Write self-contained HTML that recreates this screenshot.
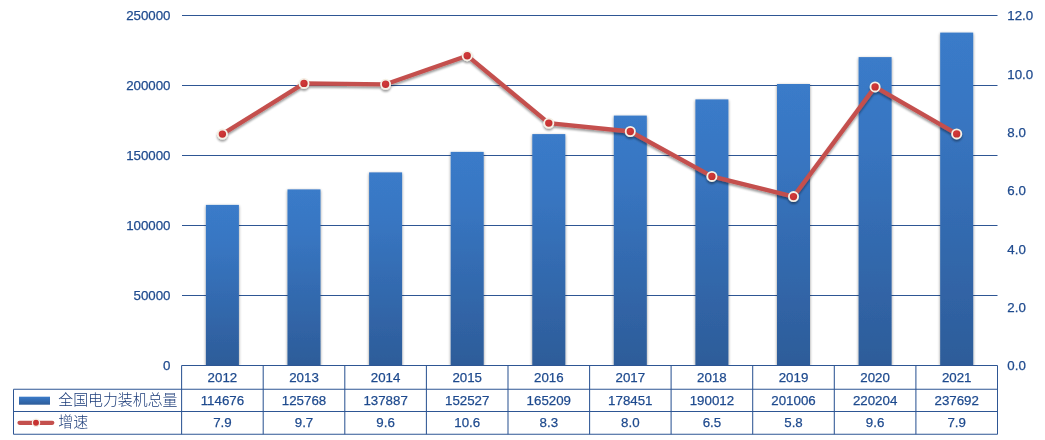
<!DOCTYPE html>
<html lang="zh"><head><meta charset="utf-8"><title>全国电力装机总量</title>
<style>html,body{margin:0;padding:0;background:#fff}body{width:1045px;height:440px;overflow:hidden}svg{display:block}text{font-family:"Liberation Sans","Noto Sans CJK SC",sans-serif;font-size:13.3px;fill:#1E4A8E;stroke:#1E4A8E;stroke-width:0.25px}.cj{font-family:"Liberation Sans","Noto Sans CJK SC",sans-serif;font-size:14.9px;font-weight:300;fill:#1B3B78;stroke:none}</style></head><body>
<svg width="1045" height="440" viewBox="0 0 1045 440">
<defs>
<linearGradient id="bg" x1="0" y1="0" x2="0" y2="1"><stop offset="0" stop-color="#3A7BC9"/><stop offset="0.25" stop-color="#3876C2"/><stop offset="1" stop-color="#2D5C99"/></linearGradient>
<linearGradient id="lg" x1="0" y1="0" x2="0" y2="1"><stop offset="0" stop-color="#3A7BC9"/><stop offset="1" stop-color="#2D5C99"/></linearGradient>
<radialGradient id="mg" cx="0.4" cy="0.35" r="0.7"><stop offset="0" stop-color="#D23A3A"/><stop offset="1" stop-color="#BE2E2E"/></radialGradient>
<filter id="bs" x="-20%" y="-5%" width="140%" height="110%"><feGaussianBlur in="SourceAlpha" stdDeviation="1.5"/><feOffset dx="0" dy="0.5"/><feComponentTransfer><feFuncA type="linear" slope="0.45"/></feComponentTransfer><feMerge><feMergeNode/><feMergeNode in="SourceGraphic"/></feMerge></filter>
<filter id="ls" x="-5%" y="-20%" width="110%" height="140%"><feGaussianBlur in="SourceAlpha" stdDeviation="1.1"/><feOffset dx="0" dy="2"/><feComponentTransfer><feFuncA type="linear" slope="0.4"/></feComponentTransfer><feMerge><feMergeNode/><feMergeNode in="SourceGraphic"/></feMerge></filter>
</defs>
<rect width="1045" height="440" fill="#fff"/>
<line x1="182.0" y1="295.5" x2="997.5" y2="295.5" stroke="#2E5694" stroke-width="1.05"/>
<line x1="182.0" y1="225.5" x2="997.5" y2="225.5" stroke="#2E5694" stroke-width="1.05"/>
<line x1="182.0" y1="155.4" x2="997.5" y2="155.4" stroke="#2E5694" stroke-width="1.05"/>
<line x1="182.0" y1="85.4" x2="997.5" y2="85.4" stroke="#2E5694" stroke-width="1.05"/>
<line x1="182.0" y1="15.4" x2="997.5" y2="15.4" stroke="#2E5694" stroke-width="1.05"/>
<clipPath id="pc"><rect x="0" y="0" width="1045" height="365.5"/></clipPath>
<g clip-path="url(#pc)"><g filter="url(#bs)">
<rect x="205.9" y="204.9" width="33" height="160.6" fill="url(#bg)"/>
<rect x="287.5" y="189.4" width="33" height="176.1" fill="url(#bg)"/>
<rect x="369.1" y="172.4" width="33" height="193.1" fill="url(#bg)"/>
<rect x="450.7" y="151.9" width="33" height="213.6" fill="url(#bg)"/>
<rect x="532.3" y="134.1" width="33" height="231.4" fill="url(#bg)"/>
<rect x="613.8" y="115.6" width="33" height="249.9" fill="url(#bg)"/>
<rect x="695.4" y="99.4" width="33" height="266.1" fill="url(#bg)"/>
<rect x="777.0" y="84.0" width="33" height="281.5" fill="url(#bg)"/>
<rect x="858.6" y="57.1" width="33" height="308.4" fill="url(#bg)"/>
<rect x="940.2" y="32.6" width="33" height="332.9" fill="url(#bg)"/>
</g></g>
<g stroke="#2E5694" stroke-width="1.05" fill="none">
<line x1="181.6" y1="365.5" x2="997.5" y2="365.5"/>
<line x1="13.5" y1="389.3" x2="997.5" y2="389.3"/>
<line x1="13.5" y1="411.5" x2="997.5" y2="411.5"/>
<line x1="13.5" y1="434.3" x2="997.5" y2="434.3"/>
<line x1="13.5" y1="389.3" x2="13.5" y2="434.3"/>
<line x1="181.6" y1="365.5" x2="181.6" y2="434.3"/>
<line x1="263.2" y1="365.5" x2="263.2" y2="434.3"/>
<line x1="344.8" y1="365.5" x2="344.8" y2="434.3"/>
<line x1="426.4" y1="365.5" x2="426.4" y2="434.3"/>
<line x1="508.0" y1="365.5" x2="508.0" y2="434.3"/>
<line x1="589.6" y1="365.5" x2="589.6" y2="434.3"/>
<line x1="671.1" y1="365.5" x2="671.1" y2="434.3"/>
<line x1="752.7" y1="365.5" x2="752.7" y2="434.3"/>
<line x1="834.3" y1="365.5" x2="834.3" y2="434.3"/>
<line x1="915.9" y1="365.5" x2="915.9" y2="434.3"/>
<line x1="997.5" y1="365.5" x2="997.5" y2="434.3"/>
</g>
<g filter="url(#ls)">
<polyline points="222.4,134.1 304.0,83.4 385.6,84.3 467.2,55.7 548.8,123.1 630.3,131.5 711.9,176.4 793.5,196.6 875.1,86.9 956.7,133.9" fill="none" stroke="#C4504E" stroke-width="4.3" stroke-linejoin="round" stroke-linecap="round"/>
<circle cx="222.4" cy="134.1" r="4.6" fill="url(#mg)" stroke="#F5F1E6" stroke-width="1.8"/>
<circle cx="304.0" cy="83.4" r="4.6" fill="url(#mg)" stroke="#F5F1E6" stroke-width="1.8"/>
<circle cx="385.6" cy="84.3" r="4.6" fill="url(#mg)" stroke="#F5F1E6" stroke-width="1.8"/>
<circle cx="467.2" cy="55.7" r="4.6" fill="url(#mg)" stroke="#F5F1E6" stroke-width="1.8"/>
<circle cx="548.8" cy="123.1" r="4.6" fill="url(#mg)" stroke="#F5F1E6" stroke-width="1.8"/>
<circle cx="630.3" cy="131.5" r="4.6" fill="url(#mg)" stroke="#F5F1E6" stroke-width="1.8"/>
<circle cx="711.9" cy="176.4" r="4.6" fill="url(#mg)" stroke="#F5F1E6" stroke-width="1.8"/>
<circle cx="793.5" cy="196.6" r="4.6" fill="url(#mg)" stroke="#F5F1E6" stroke-width="1.8"/>
<circle cx="875.1" cy="86.9" r="4.6" fill="url(#mg)" stroke="#F5F1E6" stroke-width="1.8"/>
<circle cx="956.7" cy="133.9" r="4.6" fill="url(#mg)" stroke="#F5F1E6" stroke-width="1.8"/>
</g>
<text x="170.5" y="370.3" text-anchor="end">0</text>
<text x="170.5" y="300.3" text-anchor="end">50000</text>
<text x="170.5" y="230.3" text-anchor="end">100000</text>
<text x="170.5" y="160.2" text-anchor="end">150000</text>
<text x="170.5" y="90.2" text-anchor="end">200000</text>
<text x="170.5" y="20.2" text-anchor="end">250000</text>
<text x="1007.3" y="370.3">0.0</text>
<text x="1007.3" y="311.9">2.0</text>
<text x="1007.3" y="253.6">4.0</text>
<text x="1007.3" y="195.2">6.0</text>
<text x="1007.3" y="136.9">8.0</text>
<text x="1007.3" y="78.5">10.0</text>
<text x="1007.3" y="20.2">12.0</text>
<text x="222.4" y="382" text-anchor="middle">2012</text>
<text x="222.4" y="405" text-anchor="middle">114676</text>
<text x="222.4" y="427" text-anchor="middle">7.9</text>
<text x="304.0" y="382" text-anchor="middle">2013</text>
<text x="304.0" y="405" text-anchor="middle">125768</text>
<text x="304.0" y="427" text-anchor="middle">9.7</text>
<text x="385.6" y="382" text-anchor="middle">2014</text>
<text x="385.6" y="405" text-anchor="middle">137887</text>
<text x="385.6" y="427" text-anchor="middle">9.6</text>
<text x="467.2" y="382" text-anchor="middle">2015</text>
<text x="467.2" y="405" text-anchor="middle">152527</text>
<text x="467.2" y="427" text-anchor="middle">10.6</text>
<text x="548.8" y="382" text-anchor="middle">2016</text>
<text x="548.8" y="405" text-anchor="middle">165209</text>
<text x="548.8" y="427" text-anchor="middle">8.3</text>
<text x="630.3" y="382" text-anchor="middle">2017</text>
<text x="630.3" y="405" text-anchor="middle">178451</text>
<text x="630.3" y="427" text-anchor="middle">8.0</text>
<text x="711.9" y="382" text-anchor="middle">2018</text>
<text x="711.9" y="405" text-anchor="middle">190012</text>
<text x="711.9" y="427" text-anchor="middle">6.5</text>
<text x="793.5" y="382" text-anchor="middle">2019</text>
<text x="793.5" y="405" text-anchor="middle">201006</text>
<text x="793.5" y="427" text-anchor="middle">5.8</text>
<text x="875.1" y="382" text-anchor="middle">2020</text>
<text x="875.1" y="405" text-anchor="middle">220204</text>
<text x="875.1" y="427" text-anchor="middle">9.6</text>
<text x="956.7" y="382" text-anchor="middle">2021</text>
<text x="956.7" y="405" text-anchor="middle">237692</text>
<text x="956.7" y="427" text-anchor="middle">7.9</text>
<rect x="19" y="396.7" width="31" height="8" fill="url(#lg)"/>
<text class="cj" x="58.3" y="404.6">全国电力装机总量</text>
<line x1="19.5" y1="422.8" x2="52.3" y2="422.8" stroke="#C4504E" stroke-width="4.2" stroke-linecap="round"/>
<circle cx="36" cy="422.8" r="3.6" fill="#C83232" stroke="#F5F1E6" stroke-width="1.3"/>
<text class="cj" x="58.3" y="427.1">增速</text>
</svg></body></html>
